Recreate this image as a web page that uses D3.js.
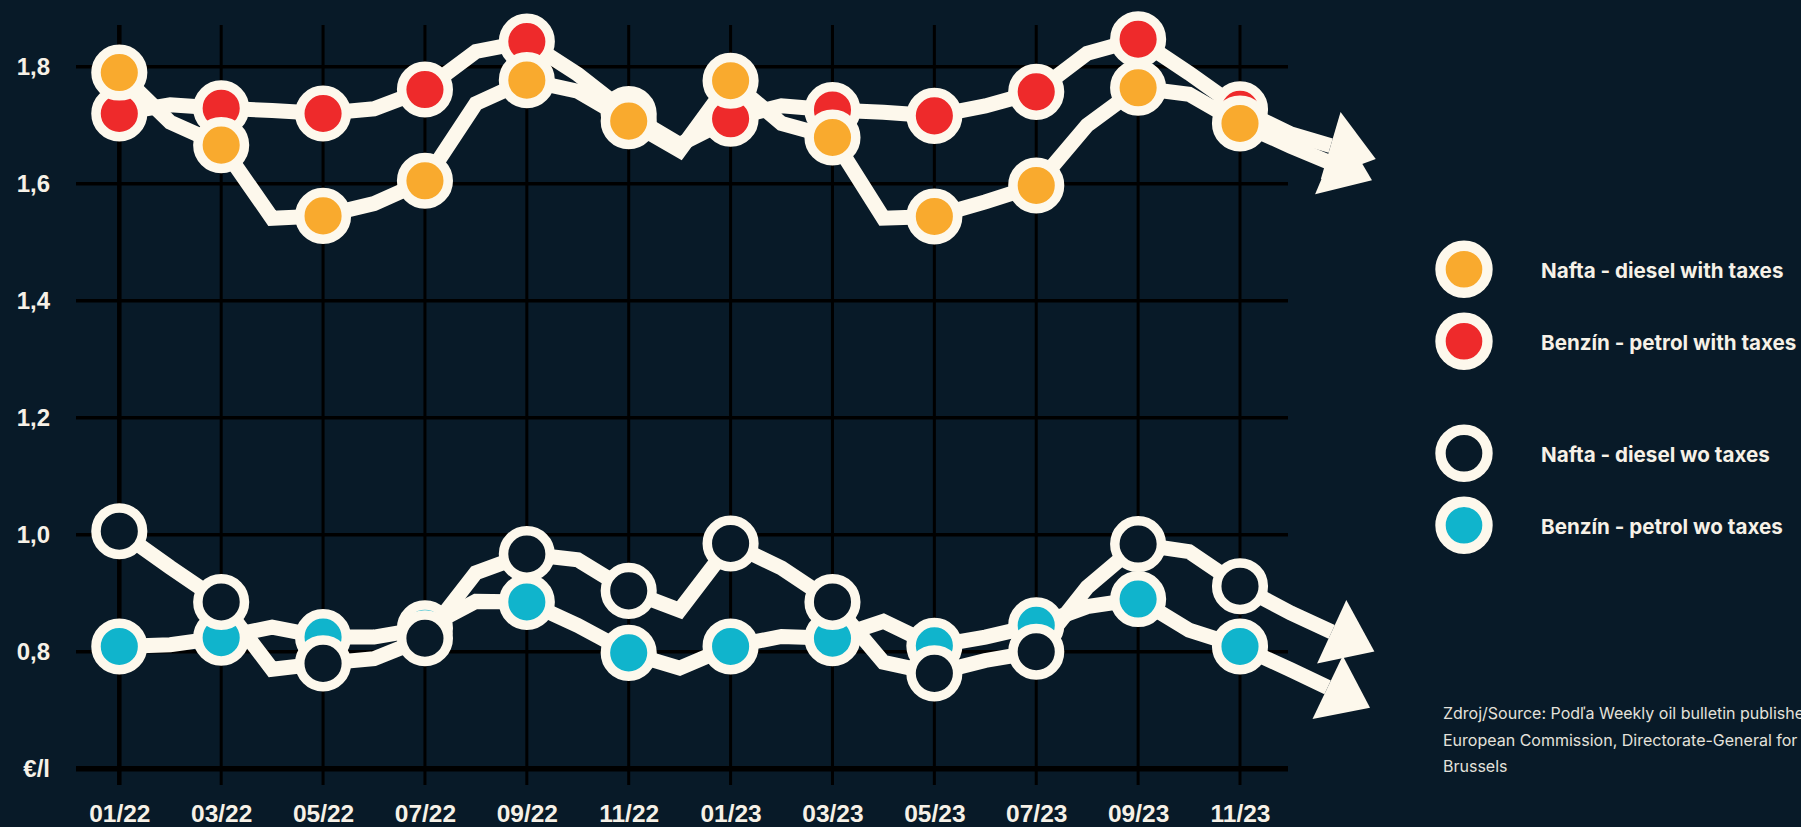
<!DOCTYPE html>
<html><head><meta charset="utf-8">
<script src="https://cdn.jsdelivr.net/npm/d3@7"></script>
<style>
html,body{margin:0;padding:0;background:#081a28;overflow:hidden;}
</style></head>
<body><svg id="chart" width="1801" height="827"></svg>
<script>
// ---------- DATA ----------
const months = ["01/22","02/22","03/22","04/22","05/22","06/22","07/22","08/22","09/22","10/22","11/22","12/22",
                "01/23","02/23","03/23","04/23","05/23","06/23","07/23","08/23","09/23","10/23","11/23","12/23"];
const yTickValues = [0.6, 0.8, 1.0, 1.2, 1.4, 1.6, 1.8];
const yTickLabels = ["€/l", "0,8", "1,0", "1,2", "1,4", "1,6", "1,8"];

const dieselWithTaxes = [1.790,1.705,1.666,1.541,1.545,1.566,1.605,1.737,1.777,1.758,1.707,1.657,
                         1.776,1.703,1.679,1.541,1.544,1.569,1.597,1.700,1.764,1.753,1.703,1.664];
const petrolWithTaxes = [1.720,1.735,1.729,1.725,1.720,1.728,1.761,1.826,1.843,1.787,1.719,1.667,
                         1.711,1.733,1.726,1.722,1.716,1.733,1.757,1.823,1.847,1.789,1.727,1.685];
const dieselWoTaxes   = [1.006,0.944,0.885,0.770,0.780,0.788,0.823,0.935,0.967,0.957,0.904,0.871,
                         0.985,0.943,0.885,0.782,0.763,0.785,0.800,0.910,0.984,0.971,0.912,0.866];
const petrolWoTaxes   = [0.809,0.812,0.824,0.842,0.825,0.825,0.840,0.886,0.885,0.845,0.798,0.772,
                         0.809,0.826,0.823,0.852,0.810,0.825,0.845,0.877,0.890,0.837,0.809,0.769];
// arrow end point for each series: [month index position, value]
const dieselWithTaxesArrow = [23.74, 1.637];
const petrolWithTaxesArrow = [23.78, 1.665];
const dieselWoTaxesArrow   = [23.80, 0.834];
const petrolWoTaxesArrow   = [23.72, 0.739];

const seriesNames = ["Nafta - diesel with taxes","Benzín - petrol with taxes","Nafta - diesel wo taxes","Benzín - petrol wo taxes"];
const sourceLines = ["Zdroj/Source: Podľa Weekly oil bulletin published by",
                     "European Commission, Directorate-General for Energy,",
                     "Brussels"];

// ---------- STYLE ----------
const BG = "#081a28", CREAM = "#fdf8ec";
const COLORS = {orange:"#f9aa2e", red:"#ee2a2b", cyan:"#10b4cc", hollow:BG};

const series = [
  {name:seriesNames[1], values:petrolWithTaxes, arrow:petrolWithTaxesArrow, fill:COLORS.red},
  {name:seriesNames[0], values:dieselWithTaxes, arrow:dieselWithTaxesArrow, fill:COLORS.orange},
  {name:seriesNames[3], values:petrolWoTaxes, arrow:petrolWoTaxesArrow, fill:COLORS.cyan},
  {name:seriesNames[2], values:dieselWoTaxes, arrow:dieselWoTaxesArrow, fill:COLORS.hollow}
];

const svg = d3.select("#chart");
svg.append("rect").attr("width",1801).attr("height",827).attr("fill",BG);

const x = d3.scaleLinear().domain([0,22]).range([119.3,1240]);
const y = d3.scaleLinear().domain([0.6,1.8]).range([768.7,66.7]);

const labelIdx = d3.range(0,24,2);
const gridLeft = 76, gridRight = 1288;

// vertical grid
svg.append("g").selectAll("line").data(labelIdx).join("line")
  .attr("x1",d=>x(d)).attr("x2",d=>x(d)).attr("y1",25).attr("y2",785)
  .attr("stroke","#000").attr("stroke-width",(d,i)=>i===0?4.5:3);
// horizontal grid
svg.append("g").selectAll("line").data(yTickValues).join("line")
  .attr("x1",gridLeft).attr("x2",gridRight).attr("y1",d=>y(d)).attr("y2",d=>y(d))
  .attr("stroke","#000").attr("stroke-width",(d,i)=>i===0?5.5:3.5);

// y axis labels
const yAxis = svg.append("g").attr("transform","translate(50,0)")
  .call(d3.axisLeft(y).tickValues(yTickValues).tickFormat((d,i)=>yTickLabels[i]).tickSize(0).tickPadding(0));
yAxis.select(".domain").remove();
yAxis.selectAll("text").attr("fill","#f6f1e7").attr("font-family","'Liberation Sans', Arial, sans-serif")
  .attr("font-weight","bold").attr("font-size",24).attr("text-anchor","end");

// x axis labels
const xAxis = svg.append("g").attr("transform","translate(0,805)")
  .call(d3.axisBottom(x).tickValues(labelIdx.filter(i=>i<=22)).tickFormat(i=>months[i]).tickSize(0).tickPadding(0));
xAxis.select(".domain").remove();
xAxis.selectAll("text").attr("fill","#f6f1e7").attr("font-family","'Liberation Sans', Arial, sans-serif")
  .attr("font-weight","bold").attr("font-size",24.5);

// lines
const line = d3.line().x(d=>x(d[0])).y(d=>y(d[1]));
const pts = s => s.values.map((v,i)=>[i,v]).concat([s.arrow]);
const gLines = svg.append("g");
series.forEach(s=>{
  gLines.append("path").attr("d",line(pts(s))).attr("fill","none").attr("stroke",CREAM)
    .attr("stroke-width",15).attr("stroke-linejoin","miter").attr("stroke-miterlimit",3);
});
// arrowheads
const headLen = 47, headHalf = 35;
series.forEach(s=>{
  const p = pts(s);
  const a = p[p.length-2], b = p[p.length-1];
  const ax = x(a[0]), ay = y(a[1]), bx = x(b[0]), by = y(b[1]);
  const ang = Math.atan2(by-ay, bx-ax);
  const ux = Math.cos(ang), uy = Math.sin(ang);
  const tip = [bx+headLen*ux, by+headLen*uy];
  const l = [bx-headHalf*(-uy), by-headHalf*ux];
  const r = [bx+headHalf*(-uy), by+headHalf*ux];
  gLines.append("path").attr("d",`M${l}L${tip}L${r}Z`).attr("fill",CREAM);
});

// markers
series.forEach(s=>{
  svg.append("g").selectAll("circle").data(labelIdx.map(i=>[i,s.values[i]])).join("circle")
    .attr("cx",d=>x(d[0])).attr("cy",d=>y(d[1])).attr("r",23.3)
    .attr("fill",s.fill).attr("stroke",CREAM).attr("stroke-width",9.5);
});

// legend
const legend = [
  {name:seriesNames[0], fill:COLORS.orange, cy:269.3},
  {name:seriesNames[1], fill:COLORS.red, cy:341.3},
  {name:seriesNames[2], fill:COLORS.hollow, cy:453.3},
  {name:seriesNames[3], fill:COLORS.cyan, cy:525.3}
];
const gl = svg.append("g");
legend.forEach(d=>{
  gl.append("circle").attr("cx",1464).attr("cy",d.cy).attr("r",23.5)
    .attr("fill",d.fill).attr("stroke",CREAM).attr("stroke-width",10.4);
  gl.append("text").attr("x",1541).attr("y",d.cy+8.3).text(d.name)
    .attr("fill","#f6f1e7").attr("font-family","Inter, 'Noto Sans', sans-serif")
    .attr("font-weight","bold").attr("font-size",20.6);
});

// source
svg.append("g").selectAll("text").data(sourceLines).join("text")
  .attr("x",1443).attr("y",(d,i)=>719+i*26.7).text(d=>d)
  .attr("fill","#e4e2dc").attr("font-family","Inter, 'Noto Sans', sans-serif")
  .attr("font-size",16);
</script>
</body></html>
